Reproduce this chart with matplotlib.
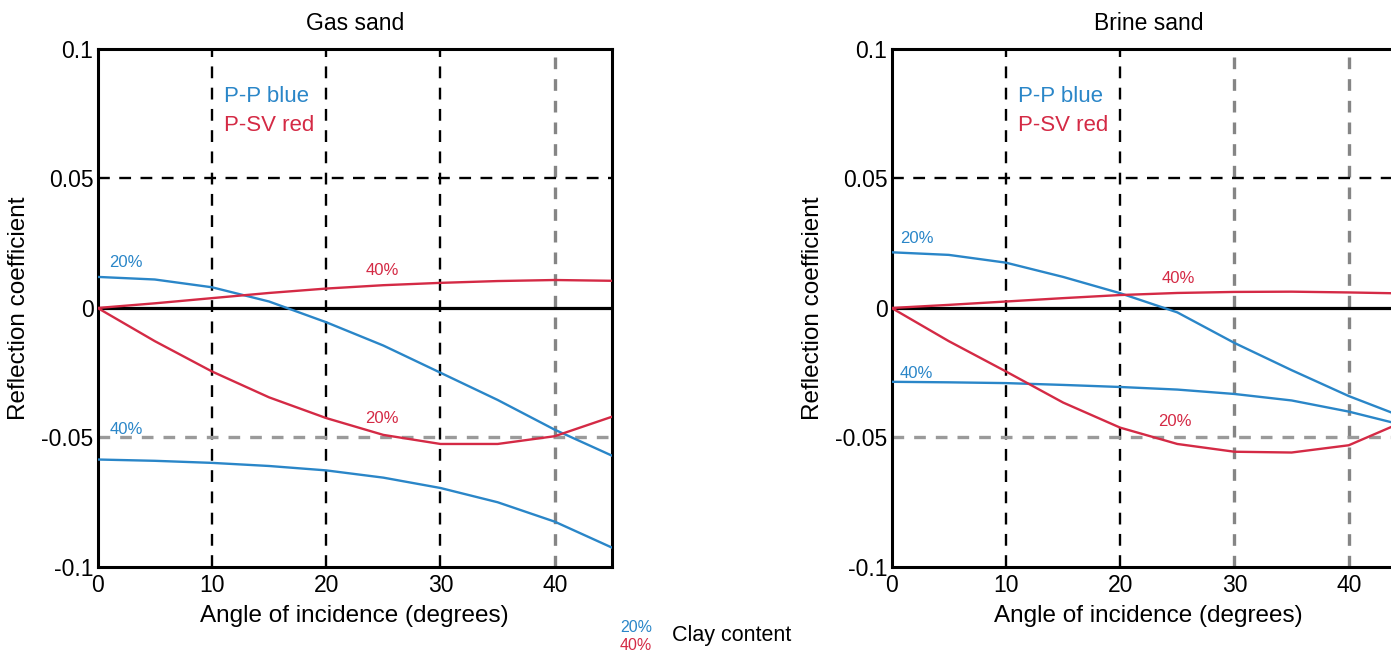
import matplotlib
matplotlib.use("Agg")
import matplotlib.pyplot as plt

plt.rcParams["font.family"] = ["Liberation Sans", "DejaVu Sans"]

BLUE = "#2a86c8"
RED = "#d42a45"
GRAY = "#9a9a9a"

# incidence angles (degrees)
angles = [0, 5, 10, 15, 20, 25, 30, 35, 40, 45]

# Gas sand
gas_pp_20 = [0.012, 0.011, 0.008, 0.0025, -0.0055, -0.0145, -0.025, -0.0355, -0.047, -0.057]
gas_pp_40 = [-0.0585, -0.059, -0.0598, -0.061, -0.0627, -0.0655, -0.0695, -0.075, -0.0825, -0.0925]
gas_psv_20 = [0.0, -0.0128, -0.0245, -0.0345, -0.0425, -0.049, -0.0525, -0.0525, -0.0495, -0.042]
gas_psv_40 = [0.0, 0.0018, 0.0038, 0.0058, 0.0075, 0.0088, 0.0097, 0.0104, 0.0108, 0.0105]

# Brine sand
brine_pp_20 = [0.0215, 0.0205, 0.0175, 0.012, 0.0057, -0.0017, -0.0135, -0.024, -0.034, -0.0425]
brine_pp_40 = [-0.0285, -0.0287, -0.029, -0.0297, -0.0305, -0.0315, -0.0332, -0.0357, -0.040, -0.0455]
brine_psv_20 = [0.0, -0.0128, -0.0245, -0.0365, -0.0462, -0.0525, -0.0555, -0.0558, -0.053, -0.0435]
brine_psv_40 = [0.0, 0.0012, 0.0025, 0.0038, 0.005, 0.0058, 0.0062, 0.0063, 0.006, 0.0056]

x_ticks = [0, 10, 20, 30, 40]
y_ticks = [-0.1, -0.05, 0, 0.05, 0.1]
y_tick_labels = ["-0.1", "-0.05", "0", "0.05", "0.1"]

fig = plt.figure(figsize=(13.91, 6.53), dpi=100)
ax_gas = fig.add_axes([0.0702, 0.1317, 0.3697, 0.7933])
ax_brine = fig.add_axes([0.641, 0.1317, 0.3697, 0.7933])

DASH = (5, 4)


def panel(ax, title, pp20, pp40, psv20, psv40, gray_vlines, labels):
    ax.set_xlim(0, 45)
    ax.set_ylim(-0.1, 0.1)
    # grid
    for xv in [10, 20, 30, 40]:
        if xv in gray_vlines:
            ax.axvline(xv, color="#858585", lw=2.4, dashes=(3.5, 3), zorder=1)
        else:
            ax.axvline(xv, color="black", lw=1.7, dashes=DASH, zorder=1)
    ax.axhline(0.05, color="black", lw=1.7, dashes=DASH, zorder=1)
    ax.axhline(-0.05, color=GRAY, lw=2.4, dashes=(3.5, 3), zorder=1)
    ax.axhline(0, color="black", lw=2.3, zorder=2)

    ax.plot(angles, pp20, color=BLUE, lw=1.7, zorder=3)
    ax.plot(angles, pp40, color=BLUE, lw=1.7, zorder=3)
    ax.plot(angles, psv20, color=RED, lw=1.7, zorder=3)
    ax.plot(angles, psv40, color=RED, lw=1.7, zorder=3)

    for (lx, ly, txt, col) in labels:
        ax.text(lx, ly, txt, color=col, fontsize=12, ha="center", va="center")

    ax.text(11.1, 0.0815, "P-P blue", color=BLUE, fontsize=16, ha="left", va="center")
    ax.text(11.1, 0.0705, "P-SV red", color=RED, fontsize=16, ha="left", va="center")

    ax.set_xticks(x_ticks)
    ax.set_yticks(y_ticks)
    ax.set_yticklabels(y_tick_labels)
    ax.tick_params(length=0, labelsize=16.5)
    ax.tick_params(axis="x", pad=5)
    ax.tick_params(axis="y", pad=3)
    for s in ax.spines.values():
        s.set_linewidth(2.2)
        s.set_color("black")
    ax.set_title(title, fontsize=16.5, pad=14)
    ax.set_xlabel("Angle of incidence (degrees)", fontsize=17.5, labelpad=6)
    ax.set_ylabel("Reflection coefficient", fontsize=17.5, labelpad=8)


panel(
    ax_gas, "Gas sand", gas_pp_20, gas_pp_40, gas_psv_20, gas_psv_40, [40],
    [(2.5, 0.0175, "20%", BLUE), (24.9, 0.0146, "40%", RED),
     (24.9, -0.0428, "20%", RED), (2.5, -0.047, "40%", BLUE)],
)
panel(
    ax_brine, "Brine sand", brine_pp_20, brine_pp_40, brine_psv_20, brine_psv_40, [30, 40],
    [(2.2, 0.027, "20%", BLUE), (25.1, 0.0114, "40%", RED),
     (2.2, -0.0253, "40%", BLUE), (24.8, -0.0437, "20%", RED)],
)

# clay-content key
fig.text(636 / 1391, 1 - 627 / 653, "20%", color=BLUE, fontsize=11.5, ha="center", va="center")
fig.text(636 / 1391, 1 - 646 / 653, "40%", color=RED, fontsize=11.5, ha="center", va="center")
fig.text(672 / 1391, 1 - 636 / 653, "Clay content", color="black", fontsize=15.5, ha="left", va="center")

fig.savefig("out.png", dpi=100)
